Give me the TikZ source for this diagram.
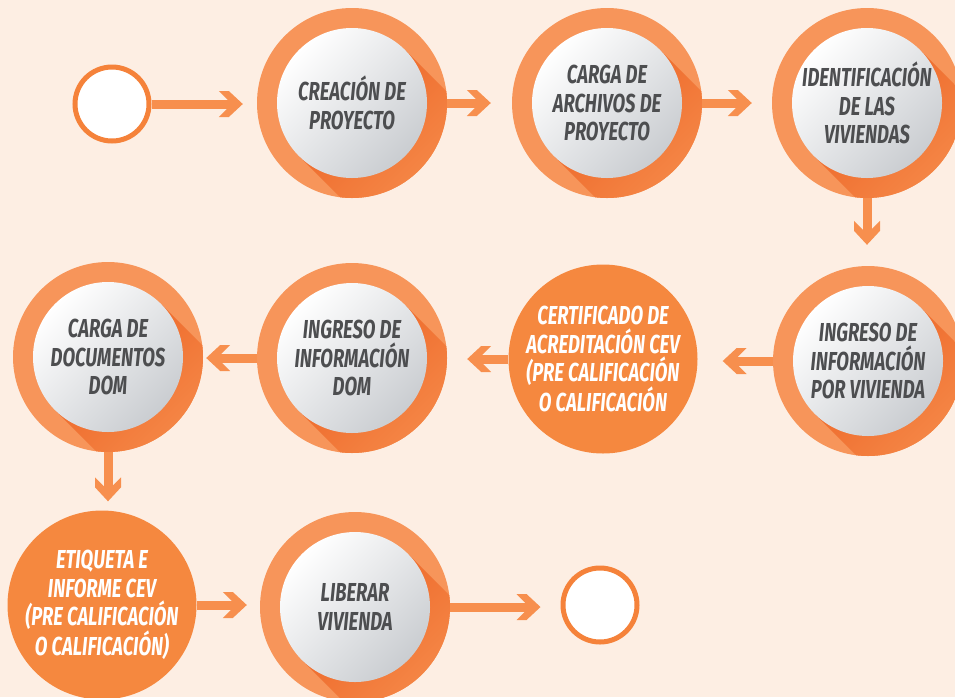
\documentclass[tikz,border=0pt]{standalone}
\usepackage{fontspec}
\newfontfamily\stepfont{Fira Sans}[FakeStretch=0.71]
\usetikzlibrary{arrows.meta,calc}

\definecolor{bgpeach}{HTML}{FDEEE3}
\definecolor{ringorange}{HTML}{F7955A}
\definecolor{shadeorange}{HTML}{EC6224}
\definecolor{fadeorange}{HTML}{F7904F}
\definecolor{fullorange}{HTML}{F5883F}
\definecolor{lineorange}{HTML}{F78F4E}
\definecolor{edgeorange}{HTML}{F5823A}
\definecolor{ballgray}{HTML}{CACDD1}
\definecolor{textgray}{HTML}{4D4E50}

% chevron head of the flow arrows
\pgfdeclarearrow{
  name=Chevron,
  setup code={
    \pgfarrowssettipend{0pt}
    \pgfarrowssetlineend{-11pt}
    \pgfarrowssetbackend{-24pt}
  },
  drawing code={
    \pgfpathmoveto{\pgfqpoint{0pt}{0pt}}
    \pgfpathlineto{\pgfqpoint{-14pt}{13pt}}
    \pgfpathlineto{\pgfqpoint{-24pt}{13pt}}
    \pgfpathlineto{\pgfqpoint{-11pt}{0pt}}
    \pgfpathlineto{\pgfqpoint{-24pt}{-13pt}}
    \pgfpathlineto{\pgfqpoint{-14pt}{-13pt}}
    \pgfpathclose
    \pgfusepathqfill
  }
}

\tikzset{
  ringstep/.style={circle, fill=ringorange, minimum size=190pt, inner sep=0pt,
    path picture={
      \coordinate (pc) at (path picture bounding box.center);
      \shade[top color=shadeorange, bottom color=fadeorange, shading angle=45]
        ([shift={(45:75pt)}]pc) -- ++(-45:100pt) -- ++(-135:150pt) -- ++(135:100pt) -- cycle;
      \shade[top color=white, bottom color=ballgray, shading angle=45]
        (pc) circle[radius=75pt];
    }},
  fullstep/.style={circle, fill=fullorange, minimum size=189pt, inner sep=0pt},
  endpoint/.style={circle, draw=edgeorange, line width=5pt, fill=white, minimum size=74pt},
  steptext/.style={align=center, text=textgray,
    font=\stepfont\bfseries\itshape\fontsize{26}{28.5}\selectfont},
  fulltext/.style={steptext, text=white},
  flow/.style={color=lineorange, line width=9pt, -Chevron}
}

\begin{document}
\begin{tikzpicture}[x=1pt,y=-1pt]
\useasboundingbox (0,0) rectangle (955,697);
\fill[bgpeach] (0,0) rectangle (955,697);

% first row
\node[endpoint] (start) at (112,104) {};
\node[ringstep, label={[steptext]center:CREACIÓN DE\\PROYECTO}] (creacion) at (352,103) {};
\node[ringstep, label={[steptext]center:CARGA DE\\ARCHIVOS DE\\PROYECTO}] (archivos) at (607,103) {};
\node[ringstep, label={[steptext]center:IDENTIFICACIÓN\\DE LAS\\VIVIENDAS}] (identificacion) at (867,103) {};

% second row
\node[ringstep, label={[steptext]center:INGRESO DE\\INFORMACIÓN\\POR VIVIENDA}] (ingresoviv) at (868,361) {};
\node[fullstep, label={[fulltext]center:CERTIFICADO DE\\ACREDITACIÓN CEV\\(PRE CALIFICACIÓN\\O CALIFICACIÓN}] (certificado) at (603,359) {};
\node[ringstep, label={[steptext]center:INGRESO DE\\INFORMACIÓN\\DOM}] (ingresodom) at (352,358) {};
\node[ringstep, label={[steptext]center:CARGA DE\\DOCUMENTOS\\DOM}] (documentos) at (108,357) {};

% third row
\node[fullstep, label={[fulltext]center:ETIQUETA E\\INFORME CEV\\(PRE CALIFICACIÓN\\O CALIFICACIÓN)}] (etiqueta) at (102,605) {};
\node[ringstep, label={[steptext]center:LIBERAR\\VIVIENDA}] (liberar) at (355,607) {};
\node[endpoint] (finish) at (600,605) {};

% connectors
\draw[flow, shorten >=14pt] (start) -- (start -| creacion.west);
\draw[flow, shorten >=21pt] (creacion) -- (creacion -| archivos.west);
\draw[flow, shorten >=20pt] (archivos) -- (archivos -| identificacion.west);
\draw[flow, shorten >=21pt] (identificacion) -- (identificacion |- ingresoviv.north);
\draw[flow, shorten >=25pt] (ingresoviv) -- (ingresoviv -| certificado.east);
\draw[flow, shorten >=20pt] (certificado) -- (certificado -| ingresodom.east);
\draw[flow, shorten >=3pt] (ingresodom) -- (ingresodom -| documentos.east);
\draw[flow, shorten >=9pt] (documentos) -- (documentos |- etiqueta.north);
\draw[flow, shorten >=13pt] (etiqueta) -- (etiqueta -| liberar.west);
\draw[flow, shorten >=20pt] (liberar) -- (liberar -| finish.west);
\end{tikzpicture}
\end{document}
